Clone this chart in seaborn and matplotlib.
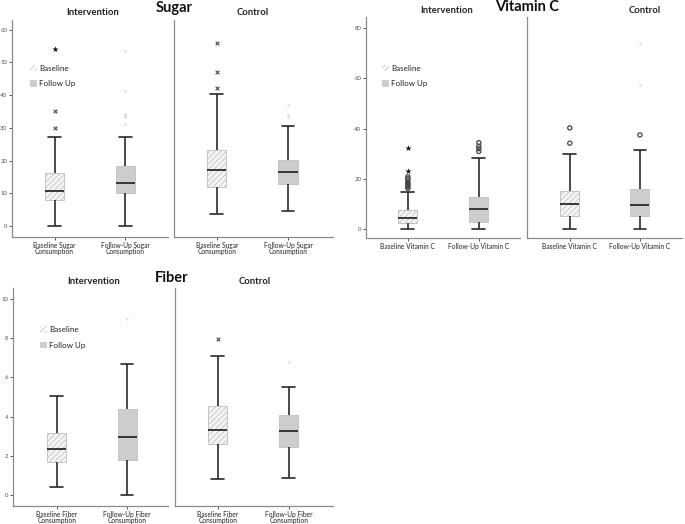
import numpy as np
import pandas as pd
import seaborn as sns
import matplotlib
matplotlib.use("Agg")
import matplotlib.pyplot as plt
from matplotlib.patches import Patch

sns.set_theme(style="white")
plt.rcParams['font.family'] = ['Lato', 'DejaVu Sans']
plt.rcParams['hatch.linewidth'] = 0.6

# ---------------- data (five-number summaries) ----------------
groups = ["Intervention", "Control"]
legend_labels = ["Baseline", "Follow Up"]

sugar_labels = ["Baseline Sugar\nConsumption", "Follow-Up Sugar\nConsumption"]
sugar_int_base = [0.0, 8.0, 10.8, 16.1, 27.1]
sugar_int_follow = [0.1, 10.2, 13.2, 18.3, 27.3]
sugar_ctl_base = [3.7, 11.8, 17.0, 23.3, 40.5]
sugar_ctl_follow = [4.6, 12.8, 16.4, 20.1, 30.7]
sugar_int_base_out = [30.1, 35.2, 54.1]
sugar_int_base_kind = ["x", "x", "*"]
sugar_int_follow_out = [31.2, 33.2, 33.8, 34.2, 41.4, 53.6]
sugar_int_follow_kind = [".", ".", ".", ".", ".", "."]
sugar_ctl_base_out = [42.1, 47.0, 55.9]
sugar_ctl_base_kind = ["x", "x", "x"]
sugar_ctl_follow_out = [33.2, 33.8, 36.9]
sugar_ctl_follow_kind = [".", ".", "."]
sugar_ticks = [0, 10, 20, 30, 40, 50, 60]

vitc_labels = ["Baseline Vitamin C", "Follow-Up Vitamin C"]
vitc_int_base = [0.0, 2.5, 4.5, 7.5, 14.9]
vitc_int_follow = [0.0, 2.8, 8.1, 12.9, 28.2]
vitc_ctl_base = [0.0, 5.1, 9.9, 15.0, 30.0]
vitc_ctl_follow = [0.1, 5.3, 9.7, 15.8, 31.6]
vitc_int_base_out = [16.2, 16.8, 17.4, 18.0, 18.5, 19.4, 20.1, 20.8, 23.3, 32.4]
vitc_int_base_kind = ["o", "o", "o", "o", "o", "o", "o", "o", "*", "*"]
vitc_int_follow_out = [30.9, 32.0, 33.0, 34.4]
vitc_int_follow_kind = ["o", "o", "o", "o"]
vitc_ctl_base_out = [34.2, 40.3]
vitc_ctl_base_kind = ["o", "o"]
vitc_ctl_follow_out = [37.5, 57.4, 73.8]
vitc_ctl_follow_kind = ["o", ".", "."]
vitc_ticks = [0, 20, 40, 60, 80]

fiber_labels = ["Baseline Fiber\nConsumption", "Follow-Up Fiber\nConsumption"]
fiber_int_base = [0.43, 1.67, 2.33, 3.15, 5.03]
fiber_int_follow = [0.0, 1.80, 2.96, 4.37, 6.68]
fiber_ctl_base = [0.82, 2.59, 3.33, 4.56, 7.09]
fiber_ctl_follow = [0.87, 2.43, 3.27, 4.06, 5.51]
fiber_int_base_out = []
fiber_int_base_kind = []
fiber_int_follow_out = [8.98]
fiber_int_follow_kind = ["."]
fiber_ctl_base_out = [7.98]
fiber_ctl_base_kind = ["x"]
fiber_ctl_follow_out = [6.77]
fiber_ctl_follow_kind = ["."]
fiber_ticks = [0, 2, 4, 6, 8, 10]

# ---------------- styling ----------------
BASE_FILL = "#f5f5f5"
FOL_FILL = "#cdcdcd"
BOX_EDGE = "#c4c4c4"
LINE = "#2a2a2a"
SPINE = "#8c8c8c"

W, H = 685, 524
fig = plt.figure(figsize=(W / 100, H / 100), dpi=100)


def ax_px(left, right, top, bottom):
    return fig.add_axes([left / W, 1 - bottom / H, (right - left) / W, (bottom - top) / H])


def fig_text(x, y, s, **kw):
    fig.text(x / W, 1 - y / H, s, ha="center", va="center", **kw)


def marker_style(kind):
    if kind == "*":
        return dict(marker="*", s=22, c="#111111", linewidths=0)
    if kind == "x":
        return dict(marker="x", s=7, c="#444444", linewidths=0.8)
    if kind == "o":
        return dict(marker="o", s=9, facecolors="none", edgecolors="#444444", linewidths=0.9)
    return dict(marker="o", s=3, c="#d9d9d9", linewidths=0)


def panel(ax, labels, base, follow, outs, ylim, yticks, show_y, xlim):
    df = pd.DataFrame({
        "measure": [labels[0]] * len(base) + [labels[1]] * len(follow),
        "value": list(base) + list(follow),
    })
    sns.boxplot(data=df, x="measure", y="value", hue="measure", order=labels,
                hue_order=labels, palette=[BASE_FILL, FOL_FILL], whis=(0, 100),
                width=0.27, linewidth=1.2, linecolor=LINE, legend=False, ax=ax,
                boxprops=dict(edgecolor=BOX_EDGE, linewidth=0.7),
                medianprops=dict(color=LINE, linewidth=1.3),
                whiskerprops=dict(color=LINE, linewidth=1.2),
                capprops=dict(color=LINE, linewidth=1.2),
                capwidths=0.18)
    for p in ax.patches:
        xc = p.get_path().vertices[:, 0].mean()
        p.set_edgecolor(BOX_EDGE)
        if xc < 0.5:
            p.set_hatch("//////")
    for pos, (vals, kinds) in enumerate(outs):
        for v, k in zip(vals, kinds):
            ax.scatter([pos], [v], zorder=5, **marker_style(k))
    ax.set_ylim(*ylim)
    ax.set_xlim(*xlim)
    ax.set_yticks(yticks)
    ax.set_xlabel("")
    ax.set_ylabel("")
    for s in ["top", "right"]:
        ax.spines[s].set_visible(False)
    for s in ["left", "bottom"]:
        ax.spines[s].set_color(SPINE)
        ax.spines[s].set_linewidth(0.9)
    ax.tick_params(axis="x", direction="out", length=2.5, width=0.7, color="#555555",
                   labelsize=4.8, labelcolor="#222222", pad=1.0, bottom=True)
    if show_y:
        ax.tick_params(axis="y", direction="out", length=2.5, width=0.7, color="#555555",
                       labelsize=4.3, labelcolor="#555555", pad=1, left=True)
    else:
        ax.tick_params(axis="y", left=False, labelleft=False)
    for t in ax.get_xticklabels():
        t.set_linespacing(0.9)
    ax.set_facecolor("white")


def add_legend(ax, x, y):
    handles = [Patch(facecolor="white", edgecolor=BOX_EDGE, hatch="//////", linewidth=0),
               Patch(facecolor=FOL_FILL, edgecolor=FOL_FILL, linewidth=0)]
    ax.legend(handles, legend_labels, loc="center left", bbox_to_anchor=(x, y),
              frameon=False, fontsize=5.8, handlelength=0.9, handleheight=0.9,
              handletextpad=0.25, labelspacing=1.05, borderpad=0, borderaxespad=0,
              labelcolor="#222222")


# ---- Sugar ----
sy = (-3.4, 63)
a1 = ax_px(12, 168, 20, 237)
panel(a1, sugar_labels, sugar_int_base, sugar_int_follow,
      [(sugar_int_base_out, sugar_int_base_kind), (sugar_int_follow_out, sugar_int_follow_kind)],
      sy, sugar_ticks, True, (-0.6, 1.6))
add_legend(a1, 0.115, 0.742)
a2 = ax_px(174, 333, 20, 237)
panel(a2, sugar_labels, sugar_ctl_base, sugar_ctl_follow,
      [(sugar_ctl_base_out, sugar_ctl_base_kind), (sugar_ctl_follow_out, sugar_ctl_follow_kind)],
      sy, sugar_ticks, False, (-0.6, 1.63))
fig_text(174, 8, "Sugar", fontsize=10.5, fontweight="bold", color="#111111")
fig_text(93, 12.5, groups[0], fontsize=6.8, fontweight="bold", color="#222222")
fig_text(253, 12.5, groups[1], fontsize=6.8, fontweight="bold", color="#222222")

# ---- Vitamin C ----
vy = (-3.6, 84.5)
a3 = ax_px(366, 520, 17, 238)
panel(a3, vitc_labels, vitc_int_base, vitc_int_follow,
      [(vitc_int_base_out, vitc_int_base_kind), (vitc_int_follow_out, vitc_int_follow_kind)],
      vy, vitc_ticks, True, (-0.59, 1.58))
add_legend(a3, 0.104, 0.733)
a4 = ax_px(527, 682, 17, 238)
panel(a4, vitc_labels, vitc_ctl_base, vitc_ctl_follow,
      [(vitc_ctl_base_out, vitc_ctl_base_kind), (vitc_ctl_follow_out, vitc_ctl_follow_kind)],
      vy, vitc_ticks, False, (-0.61, 1.6))
fig_text(527, 7, "Vitamin C", fontsize=10.5, fontweight="bold", color="#111111")
fig_text(447, 10.5, groups[0], fontsize=6.8, fontweight="bold", color="#222222")
fig_text(645, 10.5, groups[1], fontsize=6.8, fontweight="bold", color="#222222")

# ---- Fiber ----
fy = (-0.56, 10.56)
a5 = ax_px(13, 168, 288, 506)
panel(a5, fiber_labels, fiber_int_base, fiber_int_follow,
      [(fiber_int_base_out, fiber_int_base_kind), (fiber_int_follow_out, fiber_int_follow_kind)],
      fy, fiber_ticks, True, (-0.62, 1.58))
add_legend(a5, 0.174, 0.773)
a6 = ax_px(175, 333, 288, 506)
panel(a6, fiber_labels, fiber_ctl_base, fiber_ctl_follow,
      [(fiber_ctl_base_out, fiber_ctl_base_kind), (fiber_ctl_follow_out, fiber_ctl_follow_kind)],
      fy, fiber_ticks, False, (-0.6, 1.62))
fig_text(172, 278, "Fiber", fontsize=10.5, fontweight="bold", color="#111111")
fig_text(94, 282, groups[0], fontsize=6.8, fontweight="bold", color="#222222")
fig_text(255, 282, groups[1], fontsize=6.8, fontweight="bold", color="#222222")

fig.savefig("out.png", dpi=100, facecolor="white")
